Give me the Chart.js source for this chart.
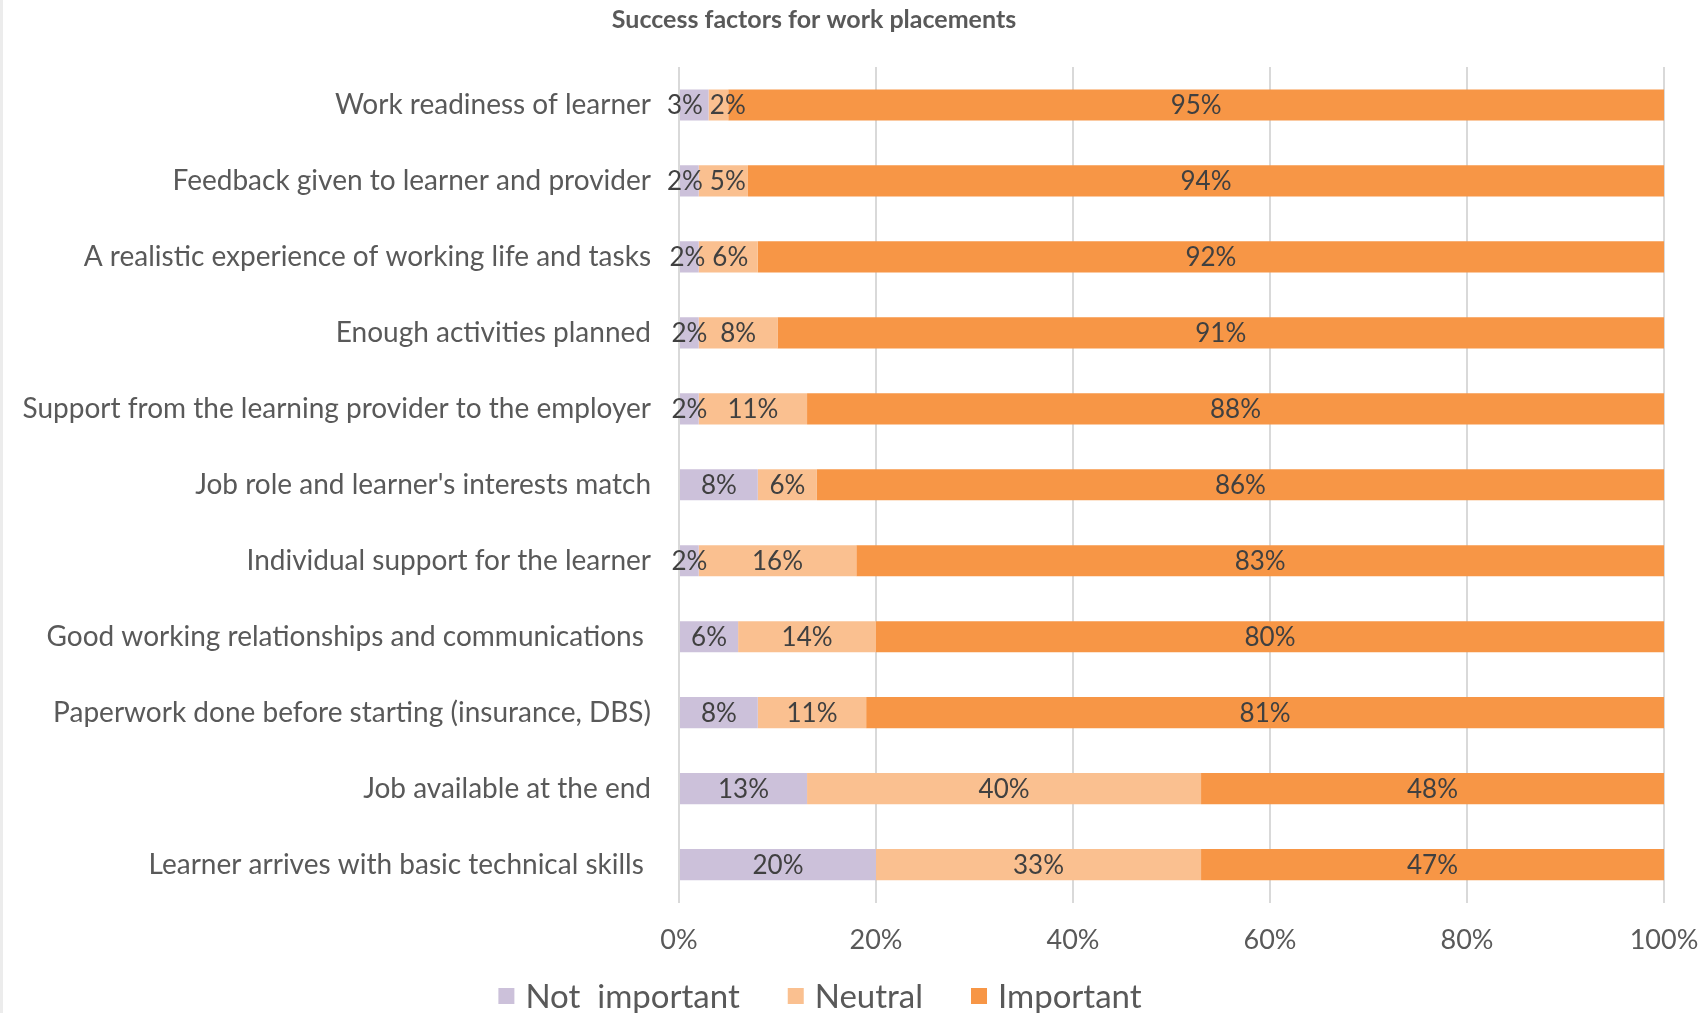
<!DOCTYPE html>
<html>
<head>
<meta charset="utf-8">
<title>Success factors for work placements</title>
<script src="https://cdn.jsdelivr.net/npm/chart.js@4.4.1/dist/chart.umd.min.js"></script>
<style>
  html, body { margin: 0; padding: 0; background: #ffffff; }
  #wrap { position: relative; width: 1708px; height: 1013px; }
  #edge { position: absolute; left: 0; top: 0; width: 3px; height: 1013px; background: #ececec; }
</style>
</head>
<body>
<div id="wrap">
  <canvas id="chart" width="1708" height="1013"></canvas>
  <div id="edge"></div>
</div>
<script>
// survey answers, percent of respondents per factor
var factors = [
  "Work readiness of learner",
  "Feedback given to learner and provider",
  "A realistic experience of working life and tasks",
  "Enough activities planned",
  "Support from the learning provider to the employer",
  "Job role and learner's interests match",
  "Individual support for the learner",
  "Good working relationships and communications ",
  "Paperwork done before starting (insurance, DBS)",
  "Job available at the end",
  "Learner arrives with basic technical skills "
];
var notImportant = [3, 2, 2, 2, 2, 8, 2, 6, 8, 13, 20];
var neutral = [2, 5, 6, 8, 11, 6, 16, 14, 11, 40, 33];
var important = [95, 94, 92, 91, 88, 86, 83, 80, 81, 48, 47];
var seriesNames = ["Not  important", "Neutral", "Important"];
var seriesColors = ["#CCC1DA", "#FAC090", "#F79646"];
var percentTicks = [0, 20, 40, 60, 80, 100];

var textColor = "#595959";
var fontFamily = "Lato, 'Open Sans', sans-serif";

// percentage written in the middle of every segment, nudged apart when they collide
var segmentLabels = {
    id: "segmentLabels",
    afterDatasetsDraw: function (chart, args, opts) {
        var ctx = chart.ctx;
        var area = chart.chartArea;
        ctx.save();
        ctx.font = opts.size + "px " + fontFamily;
        ctx.fillStyle = opts.color;
        ctx.textAlign = "center";
        ctx.textBaseline = "middle";
        for (var i = 0; i < factors.length; i++) {
            var items = [];
            for (var d = 0; d < chart.data.datasets.length; d++) {
                var bar = chart.getDatasetMeta(d).data[i];
                var text = chart.data.datasets[d].data[i] + "%";
                var end = Math.min(bar.x, area.right);
                items.push({
                    text: text,
                    x: (bar.base + end) / 2,
                    y: bar.y,
                    w: ctx.measureText(text).width
                });
            }
            for (var k = 1; k < items.length; k++) {
                var prev = items[k - 1];
                var cur = items[k];
                var gap = (cur.x - cur.w / 2) - (prev.x + prev.w / 2) - opts.minGap;
                if (gap < 0) {
                    prev.x += gap / 2;
                    cur.x -= gap / 2;
                }
            }
            for (var k = 0; k < items.length; k++) {
                ctx.fillText(items[k].text, items[k].x, items[k].y + 1);
            }
        }
        ctx.restore();
    }
};

// one-row legend under the axis: square swatch, then the series name
var legendRow = {
    id: "legendRow",
    afterDraw: function (chart, args, opts) {
        var ctx = chart.ctx;
        var sets = chart.data.datasets;
        ctx.save();
        ctx.font = opts.size + "px " + fontFamily;
        ctx.textBaseline = "middle";
        ctx.textAlign = "left";
        var total = 0;
        var widths = [];
        for (var i = 0; i < sets.length; i++) {
            widths.push(ctx.measureText(sets[i].label).width);
            total += opts.box + opts.gap + widths[i];
        }
        total += opts.spacing * (sets.length - 1);
        var x = opts.centerX - total / 2;
        for (var i = 0; i < sets.length; i++) {
            ctx.fillStyle = sets[i].backgroundColor;
            ctx.fillRect(x, opts.y - opts.box / 2, opts.box, opts.box);
            x += opts.box + opts.gap;
            ctx.fillStyle = textColor;
            ctx.fillText(sets[i].label, x, opts.y + 1);
            x += widths[i] + opts.spacing;
        }
        ctx.restore();
    }
};

// the title sits a little left of the canvas centre
var titleShift = {
    id: "titleShift",
    afterLayout: function (chart, args, opts) {
        chart.titleBlock.left += opts.dx;
        chart.titleBlock.right += opts.dx;
    }
};

function makeSet(i, values) {
    return {
        label: seriesNames[i],
        data: values,
        backgroundColor: seriesColors[i],
        borderWidth: 0,
        categoryPercentage: 1,
        barPercentage: 0.41,
        clip: 0
    };
}

var chart = new Chart(document.getElementById("chart"), {
    type: "bar",
    data: {
        labels: factors,
        datasets: [
            makeSet(0, notImportant),
            makeSet(1, neutral),
            makeSet(2, important)
        ]
    },
    plugins: [segmentLabels, legendRow, titleShift],
    options: {
        indexAxis: "y",
        responsive: false,
        animation: false,
        layout: {
            padding: { top: 0, right: 44, bottom: 36, left: 0 }
        },
        plugins: {
            legend: { display: false },
            tooltip: { enabled: false },
            title: {
                display: true,
                text: "Success factors for work placements",
                color: textColor,
                font: { family: fontFamily, size: 25, weight: "bold" },
                padding: { top: 5, bottom: 32 }
            },
            segmentLabels: { size: 26, color: "#404040", minGap: 7 },
            legendRow: { size: 33, box: 16, gap: 11, spacing: 48, centerX: 820, y: 996 },
            titleShift: { dx: -18 }
        },
        scales: {
            x: {
                type: "linear",
                stacked: true,
                min: 0,
                max: 100,
                afterBuildTicks: function (scale) {
                    scale.ticks = percentTicks.map(function (v) { return { value: v }; });
                },
                // the right margin comes from layout.padding, not the last tick label
                afterFit: function (scale) {
                    scale.paddingLeft = 0;
                    scale.paddingRight = 0;
                },
                ticks: {
                    color: textColor,
                    padding: 21,
                    maxRotation: 0,
                    font: { family: fontFamily, size: 27 },
                    callback: function (value) { return value + "%"; }
                },
                grid: {
                    color: "#D9D9D9",
                    lineWidth: 2,
                    drawTicks: false
                },
                border: { display: false }
            },
            y: {
                type: "category",
                stacked: true,
                afterFit: function (scale) {
                    scale.width = 679;
                },
                ticks: {
                    color: textColor,
                    padding: 20,
                    autoSkip: false,
                    font: { family: fontFamily, size: 28 }
                },
                grid: { display: false },
                border: { display: false }
            }
        }
    }
});
</script>
</body>
</html>
